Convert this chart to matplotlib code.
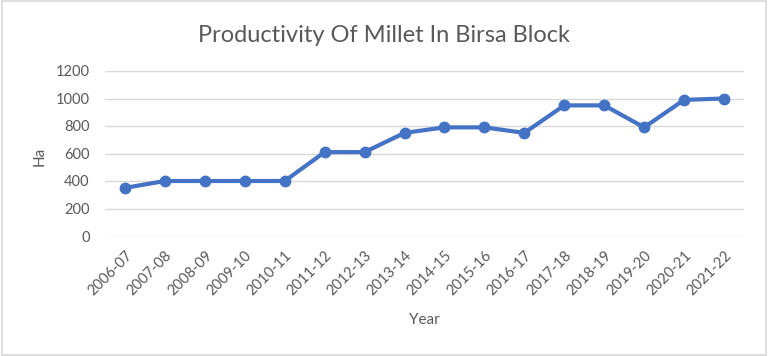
import matplotlib as mpl
mpl.use('Agg')
import matplotlib.pyplot as plt
from matplotlib.patches import Rectangle

years = ['2006-07', '2007-08', '2008-09', '2009-10', '2010-11', '2011-12',
         '2012-13', '2013-14', '2014-15', '2015-16', '2016-17', '2017-18',
         '2018-19', '2019-20', '2020-21', '2021-22']
productivity = [350, 400, 400, 400, 400, 610, 610, 750, 790, 790, 750,
                950, 950, 790, 990, 1000]
yticks = [0, 200, 400, 600, 800, 1000, 1200]

plt.rcParams['font.family'] = ['Lato', 'DejaVu Sans']
txt = '#595959'

fig = plt.figure(figsize=(7.68, 3.56), dpi=100)
ax = fig.add_axes([105 / 768, 1 - 236 / 356, 639 / 768, 165 / 356])

x = range(len(years))
ax.plot(x, productivity, color='#4472C4', linewidth=3, marker='o',
        markersize=7.5, solid_capstyle='round', zorder=3, clip_on=False)

ax.set_xlim(-0.5, len(years) - 0.5)
ax.set_ylim(0, 1200)
ax.set_yticks(yticks)
ax.set_xticks(list(x))
ax.set_xticklabels(years, rotation=45, ha='right', rotation_mode='anchor')
ax.grid(axis='y', color='#d9d9d9', linewidth=1)
ax.set_axisbelow(True)
for s in ax.spines.values():
    s.set_visible(False)
ax.tick_params(axis='both', length=0, labelsize=10.5, labelcolor=txt)
ax.tick_params(axis='y', pad=11)
ax.tick_params(axis='x', pad=9)

fig.text(0.5, 1 - 35 / 356, 'Productivity Of Millet In Birsa Block',
         fontsize=17, color=txt, ha='center', va='center')
ax.set_ylabel('Ha', fontsize=11, color=txt)
ax.yaxis.set_label_coords(-0.103, 0.48)
ax.set_xlabel('Year', fontsize=11, color=txt)
ax.xaxis.set_label_coords(0.5, -0.51)
ax.xaxis.label.set_va('center')
ax.yaxis.label.set_va('center')

fig.patches.append(Rectangle((0.002, 0.003), 0.996, 0.994, transform=fig.transFigure,
                             fill=False, edgecolor='#d9d9d9', linewidth=1.2))

fig.savefig('out.png', dpi=100)
